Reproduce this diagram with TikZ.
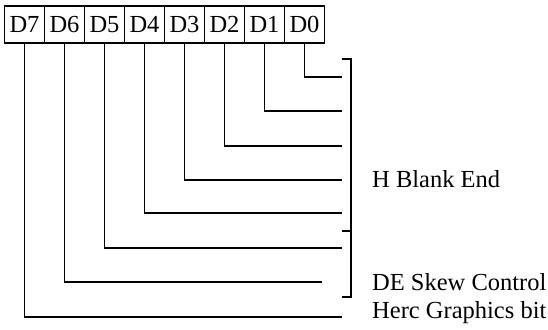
\documentclass[tikz,border=0pt]{standalone}
\usepackage{fontspec}
\setmainfont{Liberation Serif}
\begin{document}
\begin{tikzpicture}[x=1pt,y=-1pt,
  bitbox/.style={draw,line width=1.6pt,minimum width=40pt,minimum height=37pt,inner sep=0pt,outer sep=0pt,
    font=\fontsize{24.5}{28}\selectfont},
  wire/.style={line width=1.8pt},
  lbl/.style={anchor=base west,inner sep=0pt,font=\fontsize{24.5}{28}\selectfont}]
\useasboundingbox (0,0) rectangle (548,329);
% bit boxes
\foreach \b [count=\i from 0] in {7,6,5,4,3,2,1,0}{
  \node[bitbox] (d\b) at ({24.5+40*\i},24.5) {D\b};
}
% end coordinates of wires
\coordinate (e0) at (342,77);
\coordinate (e1) at (342,111);
\coordinate (e2) at (342,146);
\coordinate (e3) at (342,180);
\coordinate (e4) at (342,213);
\coordinate (e5) at (342,248);
\coordinate (e6) at (322,282);
\coordinate (e7) at (342,317);
\foreach \b in {0,...,7}{
  \draw[wire] (d\b.south) |- (e\b);
}
% bracket
\coordinate (bt) at (342,59);
\coordinate (bm) at (342,231);
\coordinate (bb) at (342,297);
\draw[wire] (bt) -- (351,59) -- (351,297) -- (bb);
\draw[wire] (bm) -- (351,231);
% labels
\node[lbl] (hbe) at (372,187) {H Blank End};
\node[lbl] (des) at (372,290) {DE Skew Control};
\node[lbl] (herc) at (372,318) {Herc Graphics bit};
\end{tikzpicture}
\end{document}
